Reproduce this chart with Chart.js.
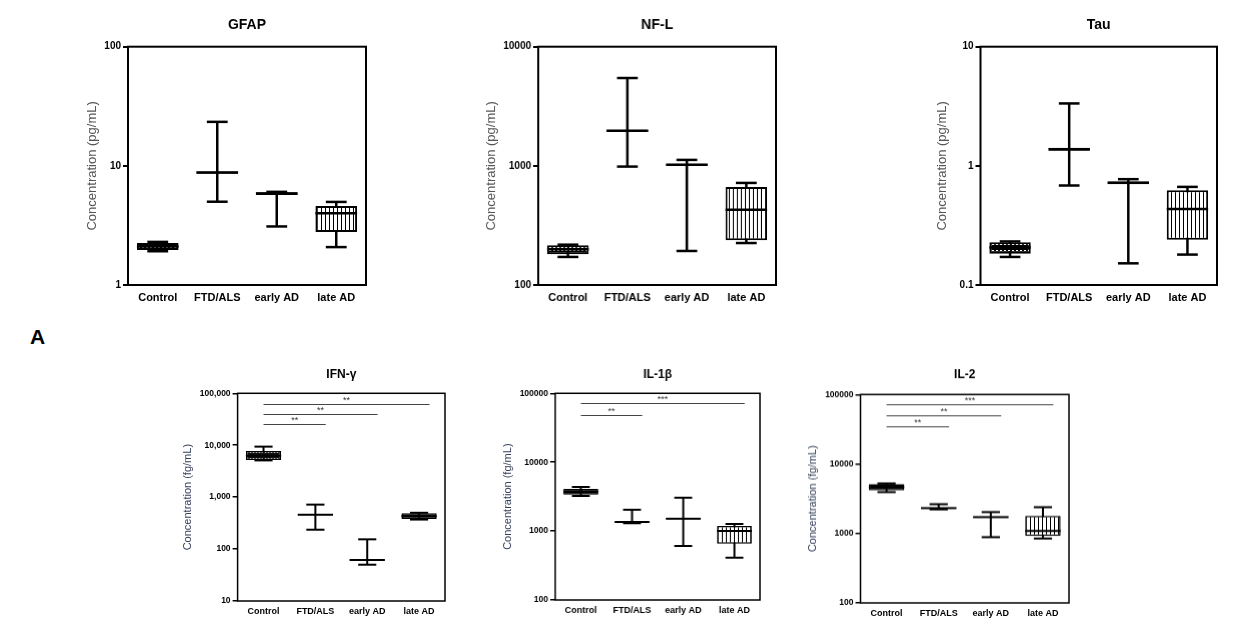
<!DOCTYPE html>
<html><head><meta charset="utf-8">
<script src="https://cdn.jsdelivr.net/npm/chart.js@4.4.0/dist/chart.umd.min.js"></script>
<style>
html,body{margin:0;padding:0;background:#fff;width:1252px;height:644px;overflow:hidden;position:relative}
canvas.pane{position:absolute}
#lblA{position:absolute;left:30px;top:325px;font:bold 21px "Liberation Sans",Arial,sans-serif;color:#000}
</style></head><body>
<div id="lblA">A</div>
<script>
// ---------------- DATA ----------------
const categories = ['Control', 'FTD/ALS', 'early AD', 'late AD'];

const gfapMin = [1.92, 5.0, 3.1, 2.08];
const gfapQ1  = [1.97, 8.6, 5.7, 2.79];
const gfapMed = [2.1, 8.8, 5.85, 4.0];
const gfapQ3  = [2.25, 8.95, 6.0, 4.6];
const gfapMax = [2.3, 23.4, 6.05, 4.98];
const gfapTicks = [1, 10, 100];
const gfapTickLabels = ['1', '10', '100'];

const nflMin = [172, 986, 193, 225];
const nflQ1  = [181, 1930, 1000, 237];
const nflMed = [200, 1968, 1020, 429];
const nflQ3  = [216, 2010, 1040, 666];
const nflMax = [218, 5460, 1122, 719];
const nflTicks = [100, 1000, 10000];
const nflTickLabels = ['100', '1000', '10000'];

const tauMin = [0.172, 0.684, 0.152, 0.18];
const tauQ1  = [0.183, 1.34, 0.70, 0.24];
const tauMed = [0.206, 1.38, 0.72, 0.435];
const tauQ3  = [0.229, 1.42, 0.74, 0.625];
const tauMax = [0.232, 3.34, 0.773, 0.666];
const tauTicks = [0.1, 1, 10];
const tauTickLabels = ['0.1', '1', '10'];

const ifnMin = [5100, 236, 50, 370];
const ifnQ1  = [5210, 450, 60, 380];
const ifnMed = [6300, 460, 61.6, 430];
const ifnQ3  = [7760, 470, 63, 490];
const ifnMax = [9400, 718, 154, 500];
const ifnTicks = [10, 100, 1000, 10000, 100000];
const ifnTickLabels = ['10', '100', '1,000', '10,000', '100,000'];
const ifnSigTo = [3, 2, 1];
const ifnSigY = [62500, 39500, 25400];
const ifnSigLabel = ['**', '**', '**'];

const il1bMin = [3230, 1300, 608, 411];
const il1bQ1  = [3375, 1330, 1480, 656];
const il1bMed = [3730, 1355, 1513, 1000];
const il1bQ3  = [4130, 1390, 1550, 1186];
const il1bMax = [4370, 2040, 3050, 1268];
const il1bTicks = [100, 1000, 10000, 100000];
const il1bTickLabels = ['100', '1000', '10000', '100000'];
const il1bSigTo = [3, 1];
const il1bSigY = [71600, 47900];
const il1bSigLabel = ['***', '**'];

const il2Min = [3940, 2220, 885, 847];
const il2Q1  = [4170, 2270, 1690, 923];
const il2Med = [4640, 2315, 1720, 1090];
const il2Q3  = [5130, 2360, 1750, 1795];
const il2Max = [5250, 2640, 2030, 2390];
const il2Ticks = [100, 1000, 10000, 100000];
const il2TickLabels = ['100', '1000', '10000', '100000'];
const il2SigTo = [3, 2, 1];
const il2SigY = [73000, 50100, 35200];
const il2SigLabel = ['***', '**', '**'];

// ---------------- PATTERNS ----------------
function makePattern(kind) {
  const c = document.createElement('canvas');
  const g = c.getContext('2d');
  if (kind === 'cross') {
    c.width = 4; c.height = 3;
    g.fillStyle = '#000'; g.fillRect(0, 0, 4, 3);
    g.fillStyle = '#fff'; g.fillRect(1, 1, 2, 1);
  } else if (kind === 'dots') {
    c.width = 3; c.height = 3;
    g.fillStyle = '#111'; g.fillRect(0, 0, 3, 3);
    g.fillStyle = '#ddd'; g.fillRect(1, 1, 1, 1);
  } else if (kind === 'hstripe') {
    c.width = 2; c.height = 3;
    g.fillStyle = '#000'; g.fillRect(0, 0, 2, 3);
    g.fillStyle = '#fff'; g.fillRect(0, 1, 2, 1);
  } else if (kind === 'vstripe') {
    c.width = 4; c.height = 2;
    g.fillStyle = '#fff'; g.fillRect(0, 0, 4, 2);
    g.fillStyle = '#000'; g.fillRect(0, 0, 1, 2);
  }
  return g.createPattern(c, 'repeat');
}
const P_CROSS = makePattern('cross'), P_DOTS = makePattern('dots'),
      P_H = makePattern('hstripe'), P_V = makePattern('vstripe');

// ---------------- STYLES ----------------
const FONT = '"Liberation Sans", Arial, sans-serif';
const topStyle = {titleSize: 14, tickSize: 10, xTickSize: 11, yTitleSize: 13, yTitleColor: '#555',
  frame: 2, lw: 2.5, boxBorder: 2, boxPct: 0.7, capFrac: 0.35, xPad: 6, xH: 25, titleLH: 16.8};
const botStyle = {titleSize: 12, tickSize: 8.5, xTickSize: 9, yTitleSize: 11, yTitleColor: '#34405a',
  frame: 1.5, lw: 2, boxBorder: 1.5, boxPct: 0.68, capFrac: 0.35, xPad: 5, xH: 22, titleLH: 14.4};

const panels = [
  {title: 'GFAP', yTitle: 'Concentration (pg/mL)', mn: gfapMin, q1: gfapQ1, md: gfapMed, q3: gfapQ3, mx: gfapMax,
   ticks: gfapTicks, tickLabels: gfapTickLabels, fills: [P_CROSS, '#000', '#000', P_V],
   left: 127.7, right: 366, top: 46.7, bottom: 285, canvasTop: 0, titleY: 25, yW: 47, st: topStyle},
  {title: 'NF-L', yTitle: 'Concentration (pg/mL)', mn: nflMin, q1: nflQ1, md: nflMed, q3: nflQ3, mx: nflMax,
   ticks: nflTicks, tickLabels: nflTickLabels, fills: [P_CROSS, '#000', '#000', P_V],
   left: 538.3, right: 776, top: 46.7, bottom: 285, canvasTop: 0, titleY: 25, yW: 58, st: topStyle},
  {title: 'Tau', yTitle: 'Concentration (pg/mL)', mn: tauMin, q1: tauQ1, md: tauMed, q3: tauQ3, mx: tauMax,
   ticks: tauTicks, tickLabels: tauTickLabels, fills: [P_CROSS, '#000', '#000', P_V],
   left: 980, right: 1217.3, top: 46.7, bottom: 285, canvasTop: 0, titleY: 25, yW: 49.5, st: topStyle},
  {title: 'IFN-γ', yTitle: 'Concentration (fg/mL)', mn: ifnMin, q1: ifnQ1, md: ifnMed, q3: ifnQ3, mx: ifnMax,
   ticks: ifnTicks, tickLabels: ifnTickLabels, fills: [P_DOTS, '#000', '#000', '#111'],
   sigTo: ifnSigTo, sigY: ifnSigY, sigLabel: ifnSigLabel,
   left: 237.7, right: 445.3, top: 393.3, bottom: 601, canvasTop: 340, titleY: 375, yW: 60.6, st: botStyle},
  {title: 'IL-1β', yTitle: 'Concentration (fg/mL)', mn: il1bMin, q1: il1bQ1, md: il1bMed, q3: il1bQ3, mx: il1bMax,
   ticks: il1bTicks, tickLabels: il1bTickLabels, fills: [P_H, '#000', '#000', P_V],
   sigTo: il1bSigTo, sigY: il1bSigY, sigLabel: il1bSigLabel,
   left: 555.3, right: 760, top: 393.3, bottom: 600, canvasTop: 340, titleY: 375, yW: 58, st: botStyle},
  {title: 'IL-2', yTitle: 'Concentration (fg/mL)', mn: il2Min, q1: il2Q1, md: il2Med, q3: il2Q3, mx: il2Max,
   ticks: il2Ticks, tickLabels: il2TickLabels, fills: [P_CROSS, '#000', '#000', P_V],
   sigTo: il2SigTo, sigY: il2SigY, sigLabel: il2SigLabel,
   left: 860, right: 1068.7, top: 394.3, bottom: 602.7, canvasTop: 341, titleY: 375, yW: 58.5, st: botStyle}
];

function extrasPlugin(p) {
  const st = p.st;
  return {
    id: 'boxExtras',
    beforeDatasetsDraw(chart) {
      const {ctx, scales: {x, y}} = chart;
      ctx.save();
      ctx.strokeStyle = '#000'; ctx.lineWidth = st.lw; ctx.lineCap = 'butt';
      p.mn.forEach((v, i) => {
        const cx = x.getPixelForValue(i);
        ctx.beginPath();
        ctx.moveTo(cx, y.getPixelForValue(v));
        ctx.lineTo(cx, y.getPixelForValue(p.mx[i]));
        ctx.stroke();
      });
      ctx.restore();
    },
    afterDatasetsDraw(chart) {
      const {ctx, chartArea, scales: {x, y}} = chart;
      const band = x.getPixelForValue(1) - x.getPixelForValue(0);
      const meta = chart.getDatasetMeta(0);
      ctx.save();
      ctx.strokeStyle = '#000'; ctx.lineWidth = st.lw;
      p.mn.forEach((v, i) => {
        const cx = x.getPixelForValue(i);
        const cw = band * st.capFrac / 2;
        [v, p.mx[i]].forEach(val => {
          const yy = y.getPixelForValue(val);
          ctx.beginPath(); ctx.moveTo(cx - cw, yy); ctx.lineTo(cx + cw, yy); ctx.stroke();
        });
        const bw = meta.data[i].width / 2;
        const ym = y.getPixelForValue(p.md[i]);
        ctx.beginPath(); ctx.moveTo(cx - bw, ym); ctx.lineTo(cx + bw, ym); ctx.stroke();
      });
      // frame
      ctx.lineWidth = st.frame;
      ctx.strokeRect(chartArea.left, chartArea.top, chartArea.right - chartArea.left, chartArea.bottom - chartArea.top);
      // significance bars
      if (p.sigTo) {
        ctx.lineWidth = 1; ctx.strokeStyle = '#444'; ctx.fillStyle = '#333';
        ctx.font = '9px ' + FONT; ctx.textAlign = 'center'; ctx.textBaseline = 'bottom';
        const x0 = x.getPixelForValue(0);
        p.sigTo.forEach((to, k) => {
          const x1 = x.getPixelForValue(to) + band * 0.2;
          const yy = Math.round(y.getPixelForValue(p.sigY[k])) + 0.5;
          ctx.beginPath(); ctx.moveTo(x0, yy); ctx.lineTo(x1, yy); ctx.stroke();
          ctx.fillText(p.sigLabel[k], (x0 + x1) / 2, yy + 1);
        });
      }
      ctx.restore();
    }
  };
}

panels.forEach(p => {
  const st = p.st;
  const padR = 4;
  const cv = document.createElement('canvas');
  cv.className = 'pane';
  const cLeft = p.left - p.yW;
  const w = p.yW + (p.right - p.left) + padR;
  const h = (p.bottom - p.canvasTop) + st.xH;
  cv.style.left = cLeft + 'px';
  cv.style.top = p.canvasTop + 'px';
  cv.style.width = w + 'px';
  cv.style.height = h + 'px';
  cv.width = w; cv.height = h;
  document.body.appendChild(cv);
  const titlePadTop = p.titleY - p.canvasTop - st.titleLH / 2;
  const titlePadBot = p.top - p.titleY - st.titleLH / 2;
  new Chart(cv, {
    type: 'bar',
    data: {
      labels: categories,
      datasets: [{
        data: p.q1.map((a, i) => [a, p.q3[i]]),
        backgroundColor: p.fills,
        borderColor: '#000',
        borderWidth: st.boxBorder,
        borderSkipped: false,
        barPercentage: st.boxPct,
        categoryPercentage: 1.0,
        grouped: false
      }]
    },
    options: {
      responsive: false,
      animation: false,
      events: [],
      layout: {padding: {left: 0, right: padR, top: 0, bottom: 0}},
      plugins: {
        legend: {display: false},
        tooltip: {enabled: false},
        title: {display: true, text: p.title, fullSize: false, color: '#000',
          font: {family: FONT, size: st.titleSize, weight: 'bold', lineHeight: 1.2},
          padding: {top: titlePadTop, bottom: titlePadBot}}
      },
      scales: {
        x: {
          type: 'category', offset: true,
          grid: {display: false, drawTicks: false},
          border: {display: false},
          ticks: {font: {family: FONT, size: st.xTickSize, weight: 'bold'}, color: '#000',
            padding: st.xPad, maxRotation: 0, autoSkip: false},
          afterFit: s => { s.height = st.xH; }
        },
        y: {
          type: 'logarithmic',
          min: p.ticks[0], max: p.ticks[p.ticks.length - 1],
          afterBuildTicks: s => { s.ticks = p.ticks.map(v => ({value: v})); },
          afterFit: s => { s.width = p.yW; },
          grid: {display: true, drawOnChartArea: false, drawTicks: true, tickLength: 5, color: '#000', lineWidth: st.frame},
          border: {display: false},
          ticks: {
            autoSkip: false, padding: 2, color: '#000',
            font: {family: FONT, size: st.tickSize, weight: 'bold'},
            callback: (v) => { const k = p.ticks.indexOf(v); return k >= 0 ? p.tickLabels[k] : ''; }
          },
          title: {display: true, text: p.yTitle, color: st.yTitleColor,
            font: {family: FONT, size: st.yTitleSize}, padding: {top: 4, bottom: 4}}
        }
      }
    },
    plugins: [extrasPlugin(p)]
  });
});
</script>
</body></html>
